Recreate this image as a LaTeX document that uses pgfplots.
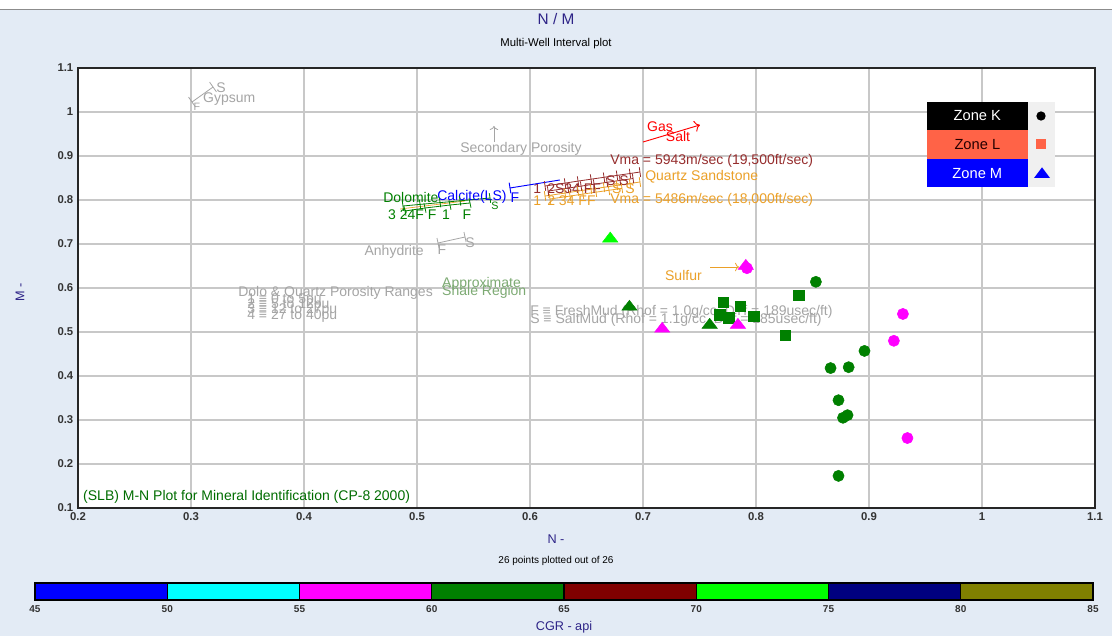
\documentclass[border=0pt]{standalone}
\usepackage{fontspec}
\setmainfont{Liberation Sans}
\usepackage{pgfplots}
\pgfplotsset{compat=1.18}
\usetikzlibrary{arrows.meta}
\definecolor{figbg}{RGB}{227,235,245}
\definecolor{gridgray}{RGB}{200,200,200}
\definecolor{navytxt}{RGB}{45,35,135}
\definecolor{anngray}{RGB}{165,165,165}
\definecolor{brownred}{RGB}{150,45,45}
\definecolor{annorange}{RGB}{235,160,40}
\definecolor{dgreen}{RGB}{0,128,0}
\definecolor{mgnt}{RGB}{255,0,255}
\definecolor{cyn}{RGB}{0,255,255}
\definecolor{lime}{RGB}{0,255,0}
\definecolor{blu}{RGB}{0,0,255}
\definecolor{maroonz}{RGB}{128,0,0}
\definecolor{navyz}{RGB}{0,0,128}
\definecolor{shalegreen}{RGB}{125,170,115}
\definecolor{tomatoz}{RGB}{255,99,71}
\definecolor{olivez}{RGB}{128,128,0}
\definecolor{legpanel}{RGB}{240,240,240}
\newcommand\annfont{\fontsize{10.5}{11}\selectfont}
\newcommand\ticklab{\fontsize{8.5}{9}\selectfont\bfseries}
\begin{document}
\begin{tikzpicture}
\path[use as bounding box] (0,0) rectangle (834pt,477pt);
\fill[white] (0,0) rectangle (834pt,477pt);
\fill[figbg] (0,0) rectangle (834pt,470pt);
\draw[black!45, line width=0.9pt] (0,470pt) -- (834pt,470pt);

\begin{axis}[
  at={(58.5pt,96pt)}, anchor=south west,
  scale only axis, width=762.75pt, height=330pt,
  xmin=0.2, xmax=1.1, ymin=0.1, ymax=1.1,
  xtick={0.2,0.3,0.4,0.5,0.6,0.7,0.8,0.9,1,1.1},
  xticklabels={0.2,0.3,0.4,0.5,0.6,0.7,0.8,0.9,1,1.1},
  ytick={0.1,0.2,0.3,0.4,0.5,0.6,0.7,0.8,0.9,1,1.1},
  yticklabels={0.1,0.2,0.3,0.4,0.5,0.6,0.7,0.8,0.9,1,1.1},
  grid=major, major grid style={draw=gridgray, line width=0.8pt},
  major tick length=0pt,
  axis line style={draw=black!85, line width=0.9pt},
  tick label style={font=\ticklab, text=black!80},
  /pgf/number format/assume math mode=true,
  axis background/.style={fill=white},
  clip=false,
]
% ---------------- mineral reference annotations ----------------
% Gypsum
\addplot[anngray, line width=0.6pt, mark=|, mark size=4.5pt, mark options={rotate=35}] coordinates {(0.3009,1.0227) (0.3195,1.0568)};
\node[text=anngray, font=\fontsize{8}{8}\selectfont] at (axis cs:0.3053,1.0114) {F};
\node[text=anngray, font=\annfont] at (axis cs:0.3265,1.0560) {S};
\node[anchor=west, inner sep=0pt, text=anngray, font=\annfont] at (axis cs:0.3106,1.0295) {Gypsum};
% Secondary porosity
\addplot[anngray, line width=0.6pt, -{To[length=3pt]}] coordinates {(0.5681,0.9318) (0.5681,0.9682)};
\node[text=anngray, font=\annfont] at (axis cs:0.5920,0.9159) {Secondary Porosity};
% Gas / Salt
\addplot[red, line width=0.7pt, -{To[length=4pt]}] coordinates {(0.7000,0.9318) (0.7504,0.9705)};
\node[text=red, font=\annfont] at (axis cs:0.7150,0.9659) {Gas};
\node[text=red, font=\annfont] at (axis cs:0.7310,0.9432) {Salt};
% Vma texts
\node[anchor=west, inner sep=0pt, text=brownred, font=\annfont] at (axis cs:0.6708,0.8886) {Vma = 5943m/sec (19,500ft/sec)};
\node[anchor=west, inner sep=0pt, text=annorange, font=\annfont] at (axis cs:0.7018,0.8523) {Quartz Sandstone};
\node[anchor=west, inner sep=0pt, text=annorange, font=\annfont] at (axis cs:0.6708,0.8000) {Vma = 5486m/sec (18,000ft/sec)};
% Quartz sandstone bundle
\addplot[brownred, line width=0.6pt, mark=|, mark size=3.6pt, mark options={rotate=8}] coordinates {(0.6133,0.8318) (0.6310,0.8384) (0.6425,0.8430) (0.6540,0.8473) (0.6655,0.8516) (0.6770,0.8559) (0.6885,0.8602) (0.6973,0.8636)};
\addplot[brownred, line width=0.6pt, mark=|, mark size=3.6pt, mark options={rotate=8}] coordinates {(0.6160,0.8204) (0.6337,0.8270) (0.6452,0.8316) (0.6567,0.8359) (0.6682,0.8402) (0.6797,0.8445) (0.6912,0.8488)};
\addplot[annorange, line width=0.6pt, mark=|, mark size=3.6pt, mark options={rotate=8}] coordinates {(0.6133,0.8091) (0.6310,0.8157) (0.6425,0.8203) (0.6540,0.8246) (0.6655,0.8289) (0.6770,0.8332) (0.6885,0.8375) (0.6973,0.8409)};
\addplot[annorange, line width=0.6pt, mark=|, mark size=3.6pt, mark options={rotate=8}] coordinates {(0.6177,0.8023) (0.6354,0.8089) (0.6469,0.8135) (0.6584,0.8178) (0.6699,0.8221) (0.6814,0.8264)};
\node[anchor=west, inner sep=0pt, text=brownred, font=\annfont] at (axis cs:0.6027,0.8250) {1 \,2S34 FF};
\node[anchor=west, inner sep=0pt, text=annorange, font=\annfont] at (axis cs:0.6027,0.7990) {1 \,2 34 FF};
\node[anchor=west, inner sep=0pt, text=brownred, font=\annfont] at (axis cs:0.6672,0.8440) {S S};
\node[anchor=west, inner sep=0pt, text=annorange, font=\annfont] at (axis cs:0.6725,0.8262) {S S};
% Calcite (blue)
\addplot[blu, line width=0.7pt, mark=|, mark size=4pt, mark indices={1}, mark options={rotate=9}] coordinates {(0.5823,0.8273) (0.6265,0.8455)};
\node[text=blu, font=\annfont] at (axis cs:0.5867,0.8060) {F};
% Dolomite (green)
\addplot[annorange, line width=0.5pt] coordinates {(0.4850,0.7795) (0.5425,0.7977)};
\addplot[dgreen, line width=0.6pt, mark=|, mark size=3.6pt, mark options={rotate=8}] coordinates {(0.4876,0.7864) (0.5027,0.7900) (0.5204,0.7941) (0.5381,0.7982) (0.5646,0.8045)};
\addplot[dgreen, line width=0.6pt, mark=|, mark size=3.6pt, mark options={rotate=12}] coordinates {(0.4894,0.7750) (0.5071,0.7818) (0.5292,0.7886) (0.5469,0.7932)};
\node[anchor=west, inner sep=0pt, text=dgreen, font=\annfont] at (axis cs:0.4699,0.8068) {Dolomite};
\node[anchor=west, inner sep=0pt, text=blu, font=\annfont] at (axis cs:0.5177,0.8068) {Calcite(LS)};
\node[anchor=west, inner sep=0pt, text=dgreen, font=\annfont] at (axis cs:0.4743,0.7659) {3 24F F};
\node[text=dgreen, font=\annfont] at (axis cs:0.5257,0.7659) {1};
\node[text=dgreen, font=\annfont] at (axis cs:0.5442,0.7659) {F};
\node[text=dgreen, font=\fontsize{8}{8}\selectfont] at (axis cs:0.5690,0.7870) {S};
% Anhydrite
\addplot[anngray, line width=0.6pt, mark=|, mark size=3.8pt, mark options={rotate=12}] coordinates {(0.5186,0.7023) (0.5425,0.7159)};
\node[text=anngray, font=\annfont] at (axis cs:0.5221,0.6864) {F};
\node[text=anngray, font=\annfont] at (axis cs:0.5469,0.7023) {S};
\node[anchor=east, inner sep=0pt, text=anngray, font=\annfont] at (axis cs:0.5062,0.6818) {Anhydrite};
% Shale region
\node[anchor=west, inner sep=0pt, text=shalegreen, font=\annfont] at (axis cs:0.5221,0.6091) {Approximate};
\node[anchor=west, inner sep=0pt, text=shalegreen, font=\annfont] at (axis cs:0.5221,0.5909) {Shale Region};
% Porosity ranges
\node[anchor=west, inner sep=0pt, text=anngray, font=\annfont] at (axis cs:0.3416,0.5886) {Dolo \& Quartz Porosity Ranges};
\node[anchor=west, inner sep=0pt, text=anngray, font=\annfont] at (axis cs:0.3496,0.5727) {1 ≡ 0 to 5pu};
\node[anchor=west, inner sep=0pt, text=anngray, font=\annfont] at (axis cs:0.3496,0.5614) {2 ≡ 5 to 12pu};
\node[anchor=west, inner sep=0pt, text=anngray, font=\annfont] at (axis cs:0.3496,0.5500) {3 ≡ 12 to 27pu};
\node[anchor=west, inner sep=0pt, text=anngray, font=\annfont] at (axis cs:0.3496,0.5364) {4 ≡ 27 to 40pu};
% Mud notes
\node[anchor=west, inner sep=0pt, text=anngray, font=\annfont] at (axis cs:0.6000,0.5455) {F ≡ FreshMud (Rhof = 1.0g/cc, DTf = 189usec/ft)};
\node[anchor=west, inner sep=0pt, text=anngray, font=\annfont] at (axis cs:0.6000,0.5273) {S ≡ SaltMud (Rhof = 1.1g/cc, DTf = 185usec/ft)};
% Sulfur
\addplot[annorange, line width=0.6pt, -{To[length=3pt]}] coordinates {(0.7593,0.6477) (0.7850,0.6477)};
\node[anchor=east, inner sep=0pt, text=annorange, font=\annfont] at (axis cs:0.7522,0.6295) {Sulfur};
% Source note
\node[anchor=west, inner sep=0pt, text=dgreen!85!black, font=\annfont] at (axis cs:0.2044,0.1250) {(SLB) M-N Plot for Mineral Identification (CP-8 2000)};

% ---------------- data points ----------------
% Zone K (circles)
\addplot[only marks, mark=*, mark size=4.2pt, color=dgreen, mark options={fill=dgreen, draw=dgreen}] coordinates {
(0.853,0.614) (0.896,0.457) (0.866,0.418) (0.882,0.420) (0.873,0.345) (0.877,0.305) (0.881,0.311) (0.873,0.173)};
\addplot[only marks, mark=*, mark size=4.2pt, color=mgnt, mark options={fill=mgnt, draw=mgnt}] coordinates {
(0.930,0.541) (0.922,0.480) (0.934,0.259) (0.792,0.645)};
% Zone L (squares)
\addplot[only marks, mark=square*, mark size=3.9pt, color=dgreen, mark options={fill=dgreen, draw=dgreen}] coordinates {
(0.838,0.584) (0.771,0.568) (0.786,0.559) (0.768,0.539) (0.776,0.532) (0.798,0.536) (0.826,0.493)};
% Zone M (triangles)
\addplot[only marks, mark=triangle*, mark size=6.6pt, color=dgreen, mark options={fill=dgreen, draw=dgreen, yscale=0.75}] coordinates {
(0.688,0.557) (0.759,0.516)};
\addplot[only marks, mark=triangle*, mark size=6.6pt, color=mgnt, mark options={fill=mgnt, draw=mgnt, yscale=0.75}] coordinates {
(0.717,0.507) (0.784,0.516) (0.791,0.650)};
\addplot[only marks, mark=triangle*, mark size=6.6pt, color=lime, mark options={fill=lime, draw=lime, yscale=0.75}] coordinates {
(0.671,0.712)};
\end{axis}

% ---------------- colour bar ----------------
\begin{axis}[
  at={(26.25pt,27pt)}, anchor=south west,
  scale only axis, width=793.5pt, height=12.75pt,
  xmin=45, xmax=85, ymin=0, ymax=1,
  xtick={45,50,55,60,65,70,75,80,85}, ytick=\empty,
  major tick length=0pt,
  axis line style={draw=black, line width=0.9pt},
  tick label style={font=\fontsize{7.5}{8}\selectfont\bfseries, text=black!80},
  /pgf/number format/assume math mode=true,
  xticklabel style={yshift=-0.5pt},
]
\addplot[fill=blu, draw=black, line width=0.8pt] coordinates {(45,0) (45,1) (50,1) (50,0)} --cycle;
\addplot[fill=cyn, draw=black, line width=0.8pt] coordinates {(50,0) (50,1) (55,1) (55,0)} --cycle;
\addplot[fill=mgnt, draw=black, line width=0.8pt] coordinates {(55,0) (55,1) (60,1) (60,0)} --cycle;
\addplot[fill=dgreen, draw=black, line width=0.8pt] coordinates {(60,0) (60,1) (65,1) (65,0)} --cycle;
\addplot[fill=maroonz, draw=black, line width=0.8pt] coordinates {(65,0) (65,1) (70,1) (70,0)} --cycle;
\addplot[fill=lime, draw=black, line width=0.8pt] coordinates {(70,0) (70,1) (75,1) (75,0)} --cycle;
\addplot[fill=navyz, draw=black, line width=0.8pt] coordinates {(75,0) (75,1) (80,1) (80,0)} --cycle;
\addplot[fill=olivez, draw=black, line width=0.8pt] coordinates {(80,0) (80,1) (85,1) (85,0)} --cycle;
\end{axis}

% ---------------- titles and labels ----------------
\node[text=navytxt, font=\fontsize{11.5}{12}\selectfont] at (417pt,463pt) {N / M};
\node[text=black, font=\fontsize{8.5}{9}\selectfont] at (417pt,444pt) {Multi-Well Interval plot};
\node[text=navytxt, font=\fontsize{9.5}{10}\selectfont] at (417pt,72.75pt) {N -};
\node[text=black, font=\fontsize{7.5}{8}\selectfont] at (417pt,56.25pt) {26 points plotted out of 26};
\node[text=navytxt, font=\fontsize{9.5}{10}\selectfont, rotate=90] at (15pt,258pt) {M -};
\node[text=navytxt, font=\fontsize{9.5}{10}\selectfont] at (423pt,6.5pt) {CGR - api};

% ---------------- legend ----------------
\fill[legpanel] (771pt,400.5pt) rectangle (791.25pt,336.75pt);
\fill[black] (695.25pt,400.5pt) rectangle (771pt,379.5pt);
\fill[tomatoz] (695.25pt,379.5pt) rectangle (771pt,357.75pt);
\fill[blu] (695.25pt,357.75pt) rectangle (771pt,336.75pt);
\node[text=white, font=\fontsize{11}{12}\selectfont] at (733pt,390pt) {Zone K};
\node[text=black!85!red, font=\fontsize{11}{12}\selectfont] at (733pt,368.6pt) {Zone L};
\node[text=white, font=\fontsize{11}{12}\selectfont] at (733pt,347.2pt) {Zone M};
\fill[black] (780.75pt,390pt) circle (3.5pt);
\fill[tomatoz] (777pt,365.3pt) rectangle (784.5pt,372.8pt);
\fill[blu] (775.5pt,343.5pt) -- (787.5pt,343.5pt) -- (781.5pt,351.5pt) -- cycle;
\end{tikzpicture}
\end{document}
